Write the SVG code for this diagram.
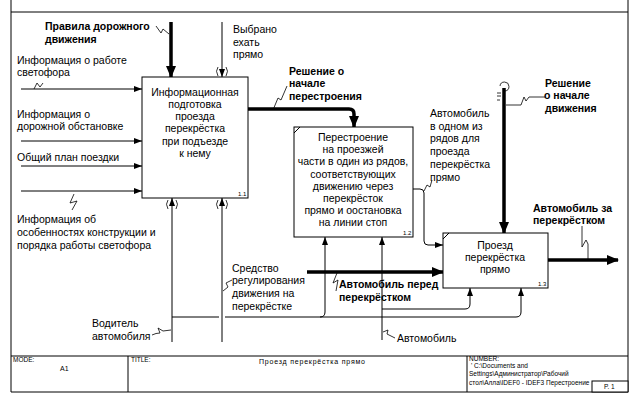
<svg xmlns="http://www.w3.org/2000/svg" width="635" height="401" viewBox="0 0 635 401">
<defs>
<marker id="a" markerUnits="userSpaceOnUse" markerWidth="8" markerHeight="6" refX="8" refY="3" orient="auto"><path d="M0,0 L8,3 L0,6 z" fill="#000"/></marker>
<marker id="b" markerUnits="userSpaceOnUse" markerWidth="12" markerHeight="10" refX="11" refY="5" orient="auto"><path d="M0,0 L12,5 L0,10 z" fill="#000"/></marker>
</defs>
<style>
text{font-family:"Liberation Sans",Arial,sans-serif;font-size:10.5px;fill:#000}
.b{font-weight:bold}
.c{text-anchor:middle}
.s{font-size:6px}
.t{font-size:6.5px}
.box{fill:#fff;stroke:#000;stroke-width:1}
.ln{fill:none;stroke:#000;stroke-width:1}
.th{fill:none;stroke:#000;stroke-width:3.5}
.sq{fill:none;stroke:#000;stroke-width:0.8}
</style>
<rect width="635" height="401" fill="#fff"/>
<g id="frame" fill="none" stroke="#000" stroke-width="1">
<path d="M11,0 V392 M628,0 V392 M11,12 H628 M11,356 H628 M11,392 H628 M128,356 V392 M467,356 V392"/>
</g>
<g id="titleblock">
<text class="t" x="13" y="362">MODE:</text>
<text class="t" x="60" y="371" style="font-size:7px">A1</text>
<text class="t" x="131" y="362">TITLE:</text>
<text class="t" x="259" y="364" style="font-size:7px" textLength="106">Проезд перекрёстка прямо</text>
<text class="t" x="469" y="361">NUMBER:</text>
<text class="t" x="471" y="368">' C:\Documents and</text>
<text class="t" x="469" y="376">Settings\Администратор\Рабочий</text>
<text class="t" x="469" y="385">стол\Алла\IDEF0 - IDEF3  Перестроение</text>
<rect x="592" y="381" width="36" height="11" fill="#fff" stroke="#000" stroke-width="1"/>
<text class="t" x="604" y="389">P. 1</text>
</g>
<g id="connectors">
<path class="ln" d="M21,89 H142" marker-end="url(#a)"/>
<path class="ln" d="M21,141 H142" marker-end="url(#a)"/>
<path class="ln" d="M21,166 H142" marker-end="url(#a)"/>
<path class="ln" d="M21,191 H142" marker-end="url(#a)"/>
<path class="th" d="M171,22 V77" marker-end="url(#b)"/>
<path class="ln" d="M222,22 V77" marker-end="url(#a)"/>
<path class="sq" d="M218,67 q-3,4 0,9 M226,67 q3,4 0,9"/>
<path class="ln" d="M172,342 V198" marker-end="url(#a)"/>
<path class="ln" d="M222,342 V198" marker-end="url(#a)"/>
<path class="sq" d="M168,200 q-3,4 0,9 M176,200 q3,4 0,9 M218,200 q-3,4 0,9 M226,200 q3,4 0,9"/>
<path class="ln" d="M172,317 H219 M225,317 H516 Q521,317 521,312 V288" marker-end="url(#a)"/>
<path class="ln" d="M320,317 Q325,317 325,312 V237" marker-end="url(#a)"/>
<path class="ln" d="M382,340 V237" marker-end="url(#a)"/>
<path class="ln" d="M382,309 H465 Q470,309 470,304 V288" marker-end="url(#a)"/>
<path class="th" d="M248,109 H349 Q354,109 354,114 V127" marker-end="url(#b)"/>
<path class="ln" d="M413,189 H420 Q424,189 424,193 V241 Q424,245 428,245 H443" marker-end="url(#a)"/>
<path class="th" d="M504,88 V233" marker-end="url(#b)"/>
<path class="sq" d="M500,86 a4.5,4.5 0 1 1 5,5 M497,93 h4 M497,96 h4 M497,100 h3"/>
<path class="th" d="M548,260 H618" marker-end="url(#b)"/>
<path class="th" d="M307,272 H443" marker-end="url(#b)"/>
<path class="sq" d="M34,89 L37,83 L40,87 L43,83"/>
<path class="sq" d="M74,194 L70,203 L77,201 L72,210"/>
<path class="sq" d="M156,26 L161,33 L163,29 L169,34"/>
<path class="sq" d="M273,110 L278,98 L281,100 L287,86"/>
<path class="sq" d="M506,105 H521 L524,97 L526,101 L529,97 H545"/>
<path class="sq" d="M424,191 L427,185 L430,187 L432,180"/>
<path class="sq" d="M582,226 V247 L586,240 L588,244 V260"/>
<path class="sq" d="M337,273 L333,283 L338,280 L336,291"/>
<path class="sq" d="M223,291 L228,287 L226,283 L232,280"/>
<path class="sq" d="M152,335 Q156,333 160,333 L158,328 L163,331 L171,330"/>
<path class="sq" d="M383,332 L388,330 L387,334 L395,338"/>
</g>
<g id="node1">
<rect class="box" x="142" y="77" width="106" height="121"/>
<text class="c" x="195" y="96">Информационная</text>
<text class="c" x="195" y="108">подготовка</text>
<text class="c" x="195" y="120">проезда</text>
<text class="c" x="195" y="132">перекрёстка</text>
<text class="c" x="195" y="145">при подъезде</text>
<text class="c" x="195" y="157">к нему</text>
<text class="s" x="238" y="196">1.1</text>
</g>
<g id="node2">
<rect class="box" x="294" y="127" width="119" height="110"/>
<path class="ln" d="M294,133 L300,127"/>
<text class="c" x="353" y="141">Перестроение</text>
<text class="c" x="353" y="153">на проезжей</text>
<text class="c" x="353" y="165">части в один из рядов,</text>
<text class="c" x="353" y="178">соответствующих</text>
<text class="c" x="353" y="190">движению через</text>
<text class="c" x="353" y="202">перекрёсток</text>
<text class="c" x="353" y="214">прямо и оостановка</text>
<text class="c" x="353" y="226">на линии стоп</text>
<text class="s" x="403" y="235">1.2</text>
</g>
<g id="node3">
<rect class="box" x="443" y="233" width="105" height="55"/>
<path class="ln" d="M443,239 L449,233"/>
<text class="c" x="495" y="249">Проезд</text>
<text class="c" x="495" y="261">перекрёстка</text>
<text class="c" x="495" y="273">прямо</text>
<text class="s" x="538" y="286">1.3</text>
</g>
<g id="labels">
<text class="b" x="45" y="30">Правила дорожного</text>
<text class="b" x="45" y="43">движения</text>
<text x="233" y="33">Выбрано</text>
<text x="233" y="46">ехать</text>
<text x="233" y="58">прямо</text>
<text x="17" y="64">Информация о работе</text>
<text x="17" y="76">светофора</text>
<text x="17" y="118">Информация о</text>
<text x="17" y="130">дорожной обстановке</text>
<text x="17" y="161">Общий план поездки</text>
<text x="17" y="223">Информация об</text>
<text x="17" y="236">особенностях конструкции и</text>
<text x="17" y="249">порядка работы светофора</text>
<text class="b" x="289" y="75">Решение о</text>
<text class="b" x="289" y="87">начале</text>
<text class="b" x="289" y="100">перестроения</text>
<text class="b" x="545" y="87">Решение</text>
<text class="b" x="544" y="99">о начале</text>
<text class="b" x="545" y="112">движения</text>
<text x="430" y="117">Автомобиль</text>
<text x="430" y="130">в одном из</text>
<text x="430" y="142">рядов для</text>
<text x="430" y="155">проезда</text>
<text x="430" y="168">перекрёстка</text>
<text x="430" y="181">прямо</text>
<text class="b" x="533" y="212">Автомобиль за</text>
<text class="b" x="533" y="224">перекрёстком</text>
<text class="b" x="339" y="288">Автомобиль перед</text>
<text class="b" x="339" y="301">перекрёстком</text>
<text x="232" y="272">Средство</text>
<text x="232" y="284">регулирования</text>
<text x="232" y="297">движения на</text>
<text x="232" y="310">перекрёстке</text>
<text x="92" y="327">Водитель</text>
<text x="92" y="340">автомобиля</text>
<text x="397" y="342">Автомобиль</text>
</g>
</svg>
